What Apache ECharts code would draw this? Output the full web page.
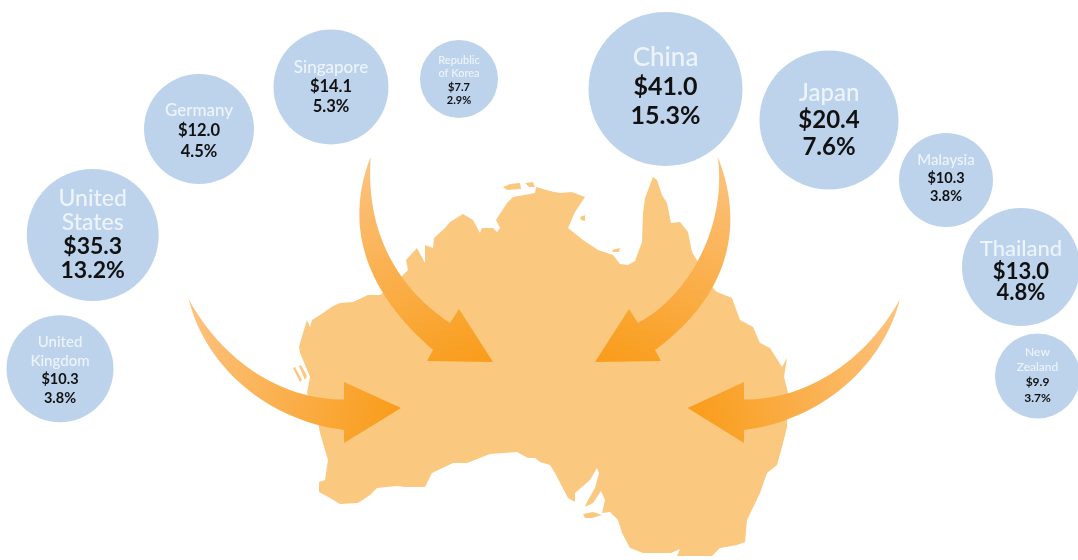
<!DOCTYPE html>
<html>
<head>
<meta charset="utf-8">
<style>html,body{margin:0;padding:0;background:#fff}#main{width:1078px;height:560px}</style>
<script src="https://cdn.jsdelivr.net/npm/echarts@6/dist/echarts.min.js"></script>
</head>
<body>
<div id="main"></div>
<script>
// trade figures
var countries = ['China', 'Japan', 'Malaysia', 'Thailand', 'New\nZealand', 'United\nStates', 'United\nKingdom', 'Germany', 'Singapore', 'Republic\nof Korea'];
var tradeValues = [41.0, 20.4, 10.3, 13.0, 9.9, 35.3, 10.3, 12.0, 14.1, 7.7];
var tradeShares = [15.3, 7.6, 3.8, 4.8, 3.7, 13.2, 3.8, 4.5, 5.3, 2.9];

// where each bubble sits, x / y / diameter
var bubbleX = [665.5, 829, 946, 1021, 1037.5, 92.7, 60, 199, 331, 459];
var bubbleY = [89, 120, 180, 267, 376, 235, 368.7, 129, 87, 79];
var bubbleD = [154, 139, 94, 118, 85, 132, 107, 110, 115, 78];

// label look: name size, value size, name line, value line, y shift
var labelLook = [
    [26, 25, 29, 29, -2],
    [24, 24, 27, 27, 0],
    [15, 14.5, 18.3, 18.3, -1.5],
    [22, 22, 26, 20.5, 2.5],
    [12, 12, 15.2, 15.2, -1],
    [23, 23, 24, 24, 0],
    [15, 14.5, 18.5, 18.5, 1.5],
    [17, 16.5, 20.7, 20.7, 2],
    [17, 16.5, 19.7, 19.7, 0],
    [11, 11, 13.3, 13.3, 1.5]
];

// map of Australia, outline traced in axis units
var mainland = [
    [300,353],[299,347],[303,333],[307,320],[310,327],[312,320],[323,313],[333,306],[340,303],[353,302],[368,295],[380,295],
    [400,278],[408,270],[406,260],[417,248],[425,263],[425,245],[433,248],[434,238],[445,228],[450,222],[463,214],[473,220],
    [480,233],[482,228],[493,228],[497,232],[500,228],[496,220],[507,203],[513,197],[535,193],[536,187],[550,191],[560,193],
    [572,192],[585,197],[575,212],[568,228],[583,240],[598,250],[613,255],[620,264],[628,265],[635,261],[642,242],[643,213],
    [645,198],[653,177],[657,180],[662,195],[667,203],[671,223],[680,222],[688,232],[692,252],[698,262],[712,287],[717,292],
    [732,298],[740,320],[753,327],[760,343],[770,348],[782,367],[787,358],[784,377],[788,393],[787,427],[782,447],[777,465],
    [767,473],[760,493],[747,520],[745,542],[737,545],[720,548],[712,556],[677,556],[680,549],[671,553],[643,553],[630,548],
    [622,533],[618,520],[610,512],[602,513],[605,500],[601,491],[593,503],[585,507],[587,502],[595,488],[599,473],[597,468],
    [590,480],[575,493],[575,502],[568,498],[555,473],[550,465],[540,462],[535,458],[528,458],[517,452],[490,454],[467,463],
    [453,463],[432,473],[425,487],[405,487],[397,486],[377,488],[370,495],[358,503],[340,504],[330,498],[319,492],[319,482],
    [325,480],[328,460],[320,433],[318,423],[307,393],[310,377],[303,360]
];
var islands = [
    [[503,187],[510,184],[520,183],[521,189],[507,190]],
    [[525,183],[533,182],[535,187],[529,187]],
    [[583,514],[593,512],[602,515],[592,518],[585,518]],
    [[580,217],[585,215],[585,221],[581,220]],
    [[293,368],[295,367],[302,380],[300,382]],
    [[299,366],[301,365],[307,376],[305,380]],
    [[612,250],[620,248],[619,252],[613,252]]
];

// arrows: each edge is one cubic (start, two handles, end), head is barb / tip / barb
var arrows = [
    {outer: [[370.7,156.7],[340,235],[375,300],[433,350]], head: [[427,361],[493,362],[459,309]],
     inner: [[450,323],[400,290],[365,235],[370.7,156.7]], dir: [0.2, 0, 0.85, 1]},
    {outer: [[717.7,156.7],[745,225],[730,295],[655,350]], head: [[661,361],[595,362],[629,309]],
     inner: [[638,323],[690,295],[727,225],[717.7,156.7]], dir: [0.8, 0, 0.15, 1]},
    {outer: [[188.7,299.3],[205,365],[265,420],[344,430]], head: [[344,443],[401,408],[344,382]],
     inner: [[344,399.5],[285,400],[225,365],[188.7,299.3]], dir: [0, 0.2, 1, 0.6]},
    {outer: [[900,299.3],[883,365],[823,420],[744,430]], head: [[744,443],[687.7,408],[744,382]],
     inner: [[744,399.5],[803,400],[863,365],[900,299.3]], dir: [1, 0.2, 0, 0.6]}
];

var blue = '#BDD3EC', land = '#FBC880', nameColor = '#EEF4FB', valueColor = '#111';
var fontName = 'Lato';

function curve(c) {
    var out = [];
    for (var i = 0; i <= 30; i++) {
        var t = i / 30, u = 1 - t;
        var a = u * u * u, b = 3 * u * u * t, d = 3 * u * t * t, e = t * t * t;
        out.push([
            a * c[0][0] + b * c[1][0] + d * c[2][0] + e * c[3][0],
            a * c[0][1] + b * c[1][1] + d * c[2][1] + e * c[3][1]
        ]);
    }
    return out;
}

var landShapes = [mainland].concat(islands);
var landData = landShapes.map(function (s, i) { return [i]; });
var arrowData = arrows.map(function (a, i) { return [i]; });

var bubbleData = countries.map(function (name, i) {
    var look = labelLook[i];
    var lines = name.split('\n').map(function (s) { return '{n|' + s + '}'; });
    lines.push('{v|$' + tradeValues[i].toFixed(1) + '}');
    lines.push('{v|' + tradeShares[i].toFixed(1) + '%}');
    return {
        name: name.replace('\n', ' '),
        value: [bubbleX[i], bubbleY[i]],
        symbolSize: bubbleD[i],
        label: {
            show: true,
            position: 'inside',
            offset: [0, look[4]],
            formatter: lines.join('\n'),
            rich: {
                n: {fontFamily: fontName, fontSize: look[0], lineHeight: look[2], color: nameColor, fontWeight: 500, align: 'center'},
                v: {fontFamily: fontName, fontSize: look[1], lineHeight: look[3], color: valueColor, fontWeight: 700, align: 'center'}
            }
        }
    };
});

var myChart = echarts.init(document.getElementById('main'));
var option = {
    backgroundColor: '#fff',
    animation: false,
    grid: {left: 0, right: 0, top: 12, bottom: 0},
    xAxis: {type: 'value', min: 0, max: 1078, show: false},
    yAxis: {type: 'value', min: 12, max: 560, inverse: true, show: false},
    series: [
        {
            type: 'custom',
            silent: true,
            z: 1,
            data: landData,
            renderItem: function (params, api) {
                var pts = landShapes[params.dataIndex].map(function (p) { return api.coord(p); });
                return {type: 'polygon', shape: {points: pts}, style: {fill: land}};
            }
        },
        {
            type: 'custom',
            silent: true,
            z: 2,
            data: arrowData,
            renderItem: function (params, api) {
                var a = arrows[params.dataIndex];
                var pts = curve(a.outer).concat(a.head, curve(a.inner)).map(function (p) { return api.coord(p); });
                return {
                    type: 'polygon',
                    shape: {points: pts},
                    style: {
                        fill: new echarts.graphic.LinearGradient(a.dir[0], a.dir[1], a.dir[2], a.dir[3], [
                            {offset: 0, color: '#FCC27E'},
                            {offset: 1, color: '#F99D1C'}
                        ])
                    }
                };
            }
        },
        {
            type: 'scatter',
            z: 3,
            clip: true,
            silent: true,
            itemStyle: {color: blue, opacity: 1},
            data: bubbleData
        }
    ]
};
myChart.setOption(option, true);
</script>
</body>
</html>
